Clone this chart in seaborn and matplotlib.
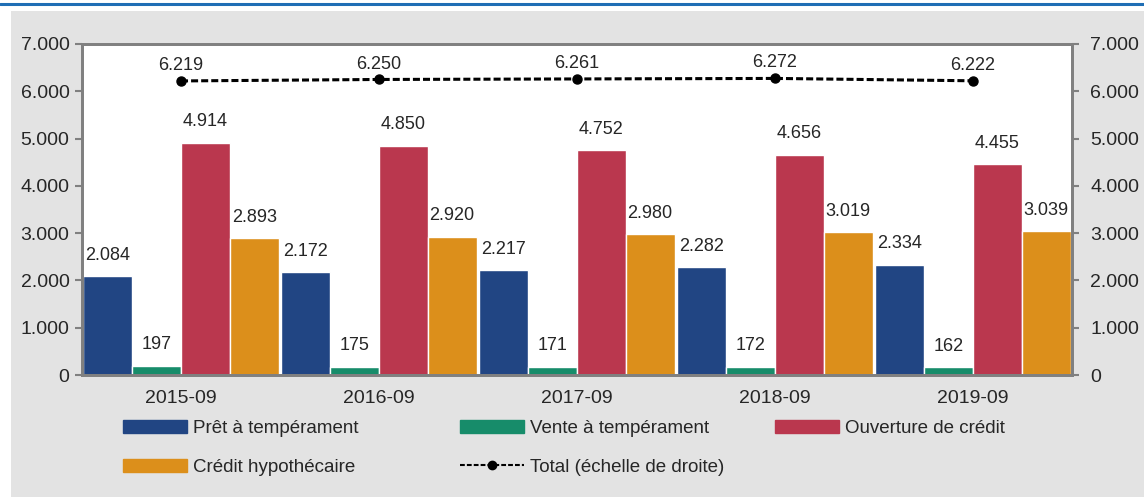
import matplotlib.pyplot as plt
import matplotlib.patches as mpatches
from matplotlib.lines import Line2D
from matplotlib.ticker import FuncFormatter, MultipleLocator
import seaborn as sns
import pandas as pd

# Data
periods = ['2015-09', '2016-09', '2017-09', '2018-09', '2019-09']
series_names = ['Prêt à tempérament', 'Vente à tempérament',
                'Ouverture de crédit', 'Crédit hypothécaire']
pret = [2084, 2172, 2217, 2282, 2334]
vente = [197, 175, 171, 172, 162]
ouverture = [4914, 4850, 4752, 4656, 4455]
hypo = [2893, 2920, 2980, 3019, 3039]
total = [6219, 6250, 6261, 6272, 6222]
total_label = 'Total (échelle de droite)'

colors = ['#214583', '#178c6a', '#ba374e', '#dc8f1b']

sns.set_style("white")
plt.rcParams['font.family'] = ['Liberation Sans', 'DejaVu Sans']

df = pd.DataFrame({
    'period': periods * 4,
    'serie': [s for s in series_names for _ in periods],
    'value': pret + vente + ouverture + hypo,
})

fig = plt.figure(figsize=(11.44, 4.97), dpi=100)
# grey panel and blue top rule
fig.patches.append(mpatches.Rectangle((11 / 1144, 0), 1133 / 1144, 486 / 497,
                                      transform=fig.transFigure, facecolor='#e3e3e3',
                                      edgecolor='none', zorder=-10))
fig.lines.append(Line2D([0, 1], [493 / 497, 493 / 497], transform=fig.transFigure,
                        color='#1f6eb5', linewidth=2.2, zorder=-10))

ax = fig.add_axes([82 / 1144, 122 / 497, 990 / 1144, 331 / 497])
ax.set_facecolor('white')
sns.barplot(data=df, x='period', y='value', hue='serie', hue_order=series_names,
            palette=colors, width=0.985, gap=0, saturation=1, ax=ax, legend=False)

fmt = FuncFormatter(lambda v, p: f'{v:,.0f}'.replace(',', '.'))
for cont in ax.containers:
    labels = [f'{b.get_height():,.0f}'.replace(',', '.') for b in cont]
    ax.bar_label(cont, labels=labels, padding=9, fontsize=13)

ax.set_ylim(0, 7000)
ax.set_xlim(-0.5, 4.5)
ax.yaxis.set_major_locator(MultipleLocator(1000))
ax.yaxis.set_major_formatter(fmt)
ax.set_xlabel('')
ax.set_ylabel('')
ax.tick_params(axis='y', length=5, width=1.5, color='#808080', labelsize=14, pad=4)
ax.tick_params(axis='x', which='major', length=0, labelsize=14, pad=11)
ax.set_xticks([0.5, 1.5, 2.5, 3.5], minor=True)
ax.tick_params(axis='x', which='minor', length=4, width=1.5, color='#808080', direction='in')
for s in ax.spines.values():
    s.set_color('#808080')
    s.set_linewidth(2)

ax2 = ax.twinx()
ax2.plot(range(len(periods)), total, color='black', linestyle=(0, (2.3, 1.0)),
         linewidth=2.2, marker='o', markersize=6.5)
for i, v in enumerate(total):
    ax2.annotate(f'{v:,.0f}'.replace(',', '.'), (i, v), xytext=(0, 5),
                 textcoords='offset points', ha='center', va='bottom', fontsize=13)
ax2.set_ylim(0, 7000)
ax2.yaxis.set_major_locator(MultipleLocator(1000))
ax2.yaxis.set_major_formatter(fmt)
ax2.tick_params(axis='y', length=5, width=1.5, color='#808080', labelsize=14, pad=8)
for s in ax2.spines.values():
    s.set_color('#808080')
    s.set_linewidth(2)

# Legend: three columns placed individually
h = [mpatches.Patch(color=c, label=n) for c, n in zip(colors, series_names)]
h_tot = Line2D([], [], color='black', linestyle=(0, (2.3, 1.0)), linewidth=1.5,
               marker='o', markersize=6, label=total_label)
columns = [([h[0], h[3]], 123), ([h[1], h_tot], 460), ([h[2]], 775)]
for hs, xpx in columns:
    fig.legend(handles=hs, labels=[x.get_label() for x in hs],
               loc='upper left', bbox_to_anchor=(xpx / 1144, 1 - 420 / 497),
               frameon=False, fontsize=13.5, handlelength=3.4, handleheight=0.7,
               handletextpad=0.35, labelspacing=1.15, numpoints=1,
               borderpad=0, borderaxespad=0)

plt.savefig('out.png', dpi=100)
